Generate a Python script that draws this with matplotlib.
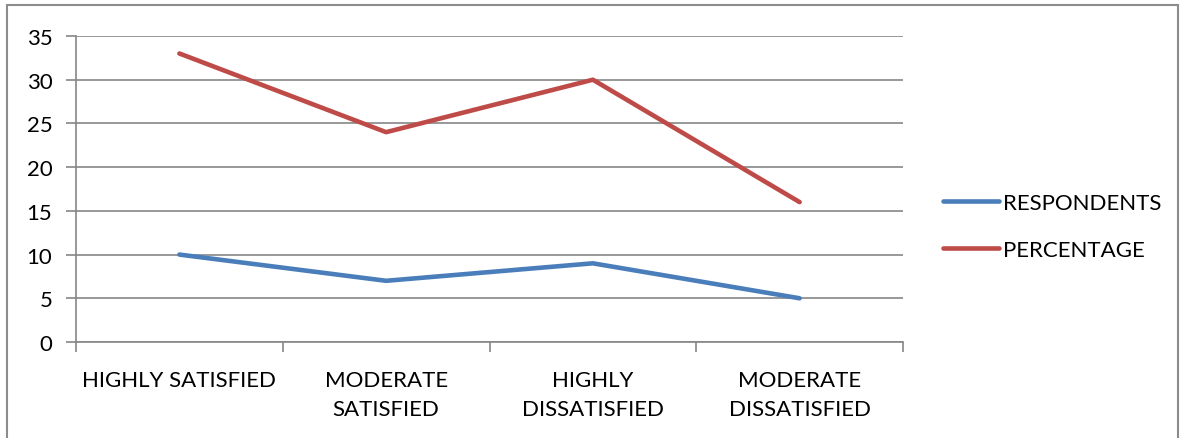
import matplotlib
matplotlib.use("Agg")
import matplotlib.pyplot as plt
from matplotlib.lines import Line2D
from matplotlib.patches import Rectangle

categories = ["HIGHLY SATISFIED", "MODERATE\nSATISFIED", "HIGHLY\nDISSATISFIED", "MODERATE\nDISSATISFIED"]
respondents = [10, 7, 9, 5]
percentage = [33, 24, 30, 16]
y_ticks = [0, 5, 10, 15, 20, 25, 30, 35]

BLUE = "#4A7EBB"
RED = "#BE4B48"
GRID = "#868686"
FS = 16

plt.rcParams["font.family"] = ["Lato", "DejaVu Sans"]

fig = plt.figure(figsize=(11.86, 4.39), dpi=100)
ax = fig.add_axes([76 / 1186, 1 - 343 / 439, 827 / 1186, 306 / 439])

x = list(range(len(categories)))
ax.plot(x, respondents, color=BLUE, lw=3.3, solid_capstyle="round", zorder=3)
ax.plot(x, percentage, color=RED, lw=3.3, solid_capstyle="round", zorder=3)

ax.set_xlim(-0.5, len(categories) - 0.5)
ax.set_ylim(0, 35)
ax.set_yticks(y_ticks)
ax.yaxis.grid(True, color=GRID, lw=1.2)
ax.set_axisbelow(True)

# category labels centered, ticks on the boundaries
ax.set_xticks(x)
ax.set_xticklabels(categories, fontsize=FS, linespacing=1.55)
ax.tick_params(axis="x", length=0, pad=20)
ax.set_xticks([i - 0.5 for i in range(len(categories) + 1)], minor=True)
ax.tick_params(axis="x", which="minor", length=7, width=1.2, color=GRID)
ax.tick_params(axis="y", length=7, width=1.2, color=GRID, labelsize=FS, pad=10)

for s in ["top", "right"]:
    ax.spines[s].set_visible(False)
ax.spines["left"].set_color(GRID)
ax.spines["left"].set_linewidth(1.2)
ax.spines["bottom"].set_color(GRID)
ax.spines["bottom"].set_linewidth(1.2)

handles = [Line2D([0], [0], color=BLUE, lw=3.3, solid_capstyle="round"),
           Line2D([0], [0], color=RED, lw=3.3, solid_capstyle="round")]
fig.legend(handles, ["RESPONDENTS", "PERCENTAGE"], loc="upper left",
           bbox_to_anchor=(923 / 1186, 1 - 174 / 439), frameon=False,
           fontsize=FS, handlelength=2.5, handletextpad=0.2, labelspacing=1.2)

# chart frame
fig.patches.append(Rectangle((7 / 1186, -0.05), 1171 / 1186, 1 - 6 / 439 + 0.05,
                             transform=fig.transFigure, fill=False,
                             edgecolor="#8C8C8C", lw=1.5))

fig.savefig("out.png", dpi=100, facecolor="white")
